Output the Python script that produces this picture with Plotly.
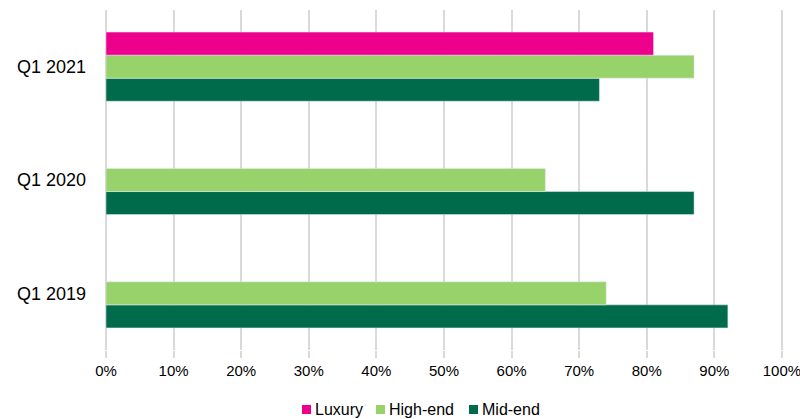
import plotly.graph_objects as go

categories = ["Q1 2019", "Q1 2020", "Q1 2021"]
mid_end = [0.92, 0.87, 0.73]
high_end = [0.74, 0.65, 0.87]
luxury = [None, None, 0.81]

series_colors = {"Luxury": "#EC008C", "High-end": "#98D26A", "Mid-end": "#006B4B"}

W, H = 800, 419
ML, MR, MT, MB = 106, 15, 10, 69
plot_w = W - ML - MR
plot_h = H - MT - MB
x_max = 1.0045  # a little headroom so the 100% gridline is kept

fig = go.Figure()
for name, vals in [("Mid-end", mid_end), ("High-end", high_end), ("Luxury", luxury)]:
    fig.add_trace(go.Bar(y=categories, x=vals, name=name, orientation="h",
                         marker=dict(color=series_colors[name]), showlegend=False))

# compact legend below the plot: small square swatch followed by the label
legend_items = [("Luxury", 302), ("High-end", 376), ("Mid-end", 469)]
swatch = 9
legend_cy = 409.5
for name, px in legend_items:
    fig.add_shape(type="rect", xref="paper", yref="paper",
                  x0=(px - ML) / plot_w,
                  x1=(px + swatch - ML) / plot_w,
                  y0=-((legend_cy + swatch / 2) - (H - MB)) / plot_h,
                  y1=-((legend_cy - swatch / 2) - (H - MB)) / plot_h,
                  fillcolor=series_colors[name], line=dict(width=0))
    fig.add_annotation(xref="paper", yref="paper",
                       x=(px + swatch + 2 - ML) / plot_w,
                       y=-(legend_cy - (H - MB)) / plot_h,
                       xanchor="left", yanchor="middle", showarrow=False,
                       text=name, font=dict(size=16, color="#000000"))

fig.update_layout(
    width=W, height=H,
    margin=dict(l=ML, r=MR, t=MT, b=MB, autoexpand=False),
    paper_bgcolor="white", plot_bgcolor="white",
    barmode="group", bargap=0.39, bargroupgap=0,
    font=dict(family="Liberation Sans, Arial, sans-serif", size=15, color="#000000"),
    showlegend=False,
    xaxis=dict(range=[0, x_max], tickvals=[i / 10 for i in range(11)],
               tickformat=".0%", showgrid=True, gridcolor="#D9D9D9", gridwidth=2,
               zeroline=True, zerolinecolor="#D9D9D9", zerolinewidth=2,
               ticks="outside", ticklen=7, tickcolor="#D9D9D9",
               tickwidth=2, showline=False, fixedrange=True, automargin=False,
               ticklabeloverflow="allow", tickfont=dict(size=15)),
    yaxis=dict(showgrid=False, zeroline=False, ticks="", showline=False,
               automargin=False, tickfont=dict(size=18), ticklabelstandoff=19),
)

fig.write_html("out.html")
